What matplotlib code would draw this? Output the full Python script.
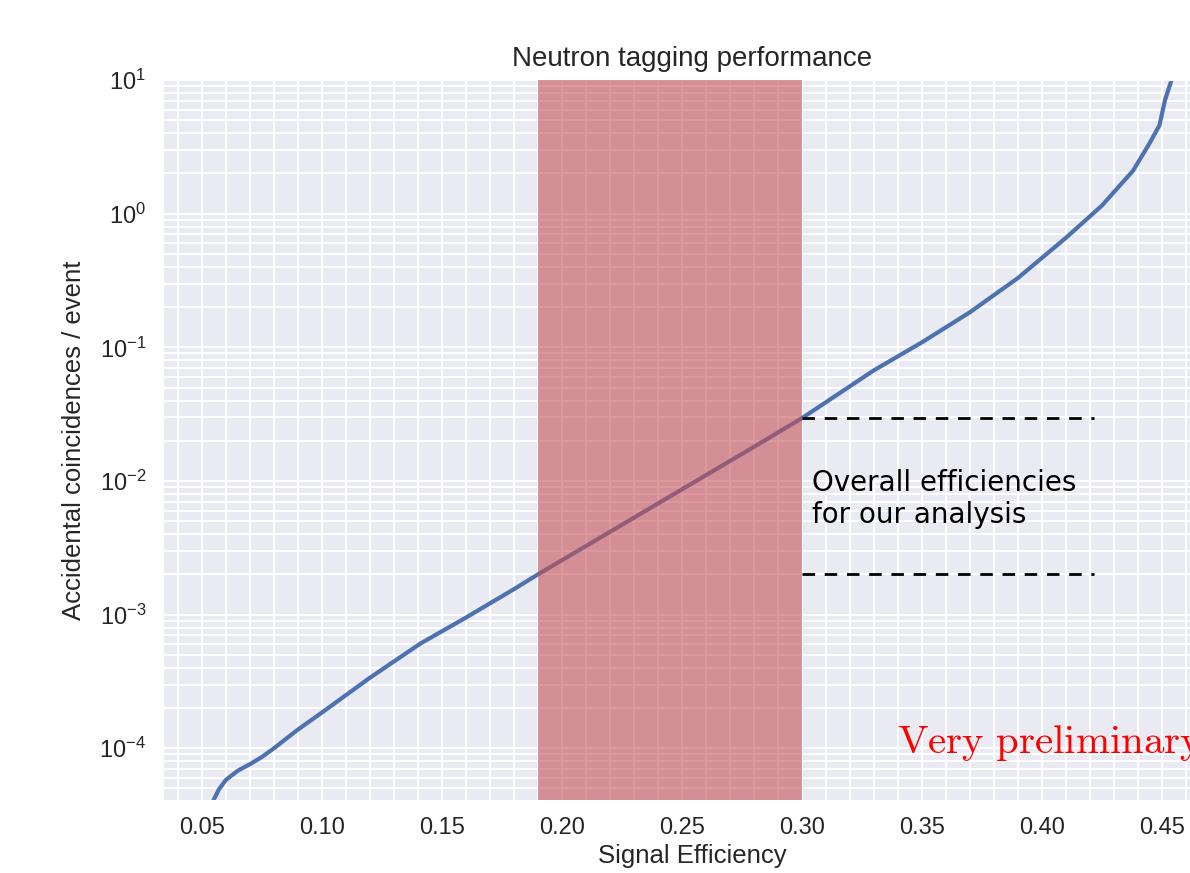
import matplotlib
matplotlib.use('Agg')
import matplotlib.pyplot as plt
import seaborn as sns
from matplotlib.ticker import MultipleLocator, LogLocator

# signal efficiency vs accidental coincidences per event
efficiency = [0.053, 0.057, 0.06, 0.065, 0.07, 0.075, 0.08, 0.09, 0.10, 0.12, 0.141, 0.16, 0.18, 0.19,
              0.22, 0.25, 0.28, 0.30, 0.33, 0.35, 0.37, 0.39, 0.41, 0.425,
              0.438, 0.445, 0.449, 0.4513, 0.454, 0.456]
accidentals = [3.5e-5, 4.9e-5, 5.8e-5, 6.8e-5, 7.6e-5, 8.6e-5, 1.0e-4, 1.38e-4, 1.85e-4, 3.37e-4, 6.07e-4,
               9.5e-4, 1.55e-3, 2.0e-3, 4.16e-3, 8.65e-3, 1.8e-2, 2.95e-2, 6.73e-2, 0.109, 0.183,
               0.33, 0.66, 1.15, 2.1, 3.4, 4.6, 7.1, 10.0, 14.0]

# chosen analysis window
window = [0.19, 0.30]
window_levels = [2.95e-2, 2.0e-3]
dash_end = 0.4215

sns.set_style('darkgrid')
plt.rcParams['font.family'] = ['Liberation Sans', 'DejaVu Sans']
plt.rcParams['mathtext.fontset'] = 'cm'

fig = plt.figure(figsize=(11.9, 8.73), dpi=100)
ax = fig.add_axes([0.137, 0.0836, 0.889, 0.8247])

ax.plot(efficiency, accidentals, color='#4C72B0', lw=3)
ax.axvspan(window[0], window[1], color='#C44E52', alpha=0.58, lw=0, zorder=3)
for lvl in window_levels:
    ax.hlines(lvl, window[1], dash_end, colors='black', linestyles=(0, (4.5, 3.5)), lw=2, zorder=4)

ax.set_yscale('log')
ax.set_xlim(0.0338, 0.4746)
ax.set_ylim(4.1e-5, 10)
ax.xaxis.set_major_locator(MultipleLocator(0.05))
ax.xaxis.set_minor_locator(MultipleLocator(0.01))
ax.yaxis.set_minor_locator(LogLocator(base=10, subs=range(2, 10)))
ax.grid(which='both', color='white', lw=1.5)
ax.tick_params(which='both', length=0, labelsize=17, colors='#262626', pad=12)
ax.xaxis.set_major_formatter(plt.FuncFormatter(lambda v, p: f'{v:.2f}'))

ax.set_title('Neutron tagging performance', fontsize=20, color='#262626', pad=10)
ax.set_xlabel('Signal Efficiency', fontsize=18.5, color='#262626', labelpad=4)
ax.set_ylabel('Accidental coincidences / event', fontsize=18.5, color='#262626', labelpad=10)

ax.text(0.304, 7.3e-3, 'Overall efficiencies\nfor our analysis', family='DejaVu Sans',
        fontsize=20, va='center', ha='left', color='black', zorder=5)
ax.text(0.3396, 9.2e-5, r'$\mathrm{Very\ preliminary}$', color='red', fontsize=29.5,
        va='baseline', ha='left', zorder=5)

fig.savefig('out.png', dpi=100)
